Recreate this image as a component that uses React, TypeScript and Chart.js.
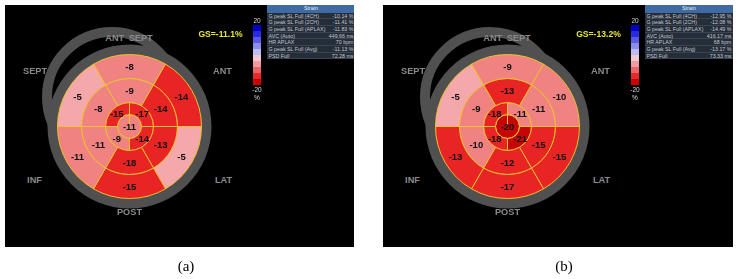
import React, { useEffect, useRef } from "react";
import { Chart, registerables } from "chart.js";

Chart.register(...registerables);

// 17-segment bullseye values (clockwise from top)
const basalA = [-8, -14, -5, -15, -11, -5];
const midA = [-9, -14, -13, -18, -11, -8];
const apicalA = [-17, -14, -9, -15]; // TR, BR, BL, TL
const apexA = [-11];

const basalB = [-9, -10, -15, -17, -13, -5];
const midB = [-13, -11, -15, -12, -10, -9];
const apicalB = [-11, -21, -18, -18];
const apexB = [-20];

const gsA = "GS=-11.1%";
const gsB = "GS=-13.2%";

const tableLabels = [
  "G peak SL Full (4CH)",
  "G peak SL Full (2CH)",
  "G peak SL Full (APLAX)",
  "AVC (Auto)",
  "HR APLAX",
  "G peak SL Full (Avg)",
  "PSD Full",
];
const tableA = ["-10.14 %", "-11.41 %", "-11.83 %", "449.66 ms", "70 bpm", "-11.13 %", "72.28 ms"];
const tableB = ["-12.95 %", "-12.08 %", "-14.49 %", "416.17 ms", "68 bpm", "-13.17 %", "73.33 ms"];

const wallLabels = ["ANT SEPT", "SEPT", "ANT", "INF", "LAT", "POST"];
const colorbarTicks = ["20", "-20", "%"];
const colorbarSteps = [
  "#0000c8", "#2a2ae0", "#5a5ae4", "#8c8cec", "#bcbcf2",
  "#f2c8d0", "#f29aa2", "#ee6464", "#e42a2a", "#cc0000",
];
const captions = ["(a)", "(b)"];

const YELLOW = "#f0c22e";
const RING = "#505050";

function strainColor(v: number): string {
  if (v > -7) return "#f4a8ac";
  if (v > -12) return "#f08282";
  if (v > -19) return "#e82424";
  return "#c60606";
}

const segLabelPlugin = {
  id: "segLabels",
  afterDatasetsDraw(chart: any, _args: any, opts: any) {
    const values: (number[] | null)[] = opts.values || [];
    const ctx = chart.ctx;
    ctx.save();
    ctx.font = 'bold 9.5px "Liberation Sans", Arial, sans-serif';
    ctx.fillStyle = "#111111";
    ctx.textAlign = "center";
    ctx.textBaseline = "middle";
    values.forEach((vals, di) => {
      if (!vals) return;
      const meta = chart.getDatasetMeta(di);
      meta.data.forEach((arc: any, i: number) => {
        const p = arc.getProps(["x", "y", "startAngle", "endAngle", "innerRadius", "outerRadius"]);
        let x = p.x;
        let y = p.y;
        const full = p.endAngle - p.startAngle >= Math.PI * 2 - 1e-6;
        if (!(full && p.innerRadius <= 0.5)) {
          const a = (p.startAngle + p.endAngle) / 2;
          const r = (p.innerRadius + p.outerRadius) / 2;
          x = p.x + Math.cos(a) * r;
          y = p.y + Math.sin(a) * r;
        }
        ctx.fillText(String(vals[i]), x, y + 0.5);
      });
    });
    ctx.restore();
  },
};

type PanelProps = {
  left: number;
  width: number;
  basal: number[];
  mid: number[];
  apical: number[];
  apex: number[];
  gs: string;
  table: string[];
  caption: string;
};

function Bullseye(props: { basal: number[]; mid: number[]; apical: number[]; apex: number[] }) {
  const ref = useRef<HTMLCanvasElement | null>(null);
  useEffect(() => {
    if (!ref.current) return;
    const seg = (vals: number[], weight: number, rotation: number) => ({
      data: vals.map(() => 1),
      backgroundColor: vals.map(strainColor),
      borderColor: YELLOW,
      borderWidth: 1,
      hoverBorderWidth: 1,
      weight,
      rotation,
    });
    const chart = new Chart(ref.current, {
      type: "doughnut",
      data: {
        datasets: [
          { data: [1], backgroundColor: RING, borderWidth: 0, hoverBorderWidth: 0, weight: 10, order: 10 } as any,
          seg(props.basal, 24, -30),
          seg(props.mid, 24, -30),
          seg(props.apical, 12, 0),
          seg(props.apex, 12, 0),
        ],
      },
      options: {
        animation: false,
        responsive: false,
        events: [],
        cutout: 0,
        radius: 82,
        layout: { padding: 0 },
        plugins: {
          legend: { display: false },
          tooltip: { enabled: false },
          segLabels: { values: [null, props.basal, props.mid, props.apical, props.apex] },
        } as any,
      },
      plugins: [segLabelPlugin],
    });
    return () => chart.destroy();
  }, []);
  return (
    <canvas
      ref={ref}
      width={165}
      height={165}
      style={{ position: "absolute", left: 42, top: 39, width: 165, height: 165 }}
    />
  );
}

const wallPos: [number, number][] = [
  [124, 34],
  [30, 67],
  [217.5, 67],
  [29.5, 176],
  [218.5, 176],
  [124.5, 208],
];

function Panel(p: PanelProps) {
  const text = (s: string, x: number, y: number, style: React.CSSProperties, key?: any) => (
    <div
      key={key}
      style={{
        position: "absolute",
        left: x,
        top: y,
        transform: "translate(-50%, -50%)",
        whiteSpace: "pre",
        lineHeight: 1,
        ...style,
      }}
    >
      {s}
    </div>
  );
  const wallStyle: React.CSSProperties = {
    color: "#8a8a8a",
    fontWeight: "bold",
    fontSize: 9.2,
    fontFamily: '"Liberation Sans", Arial, sans-serif',
    wordSpacing: 2,
  };
  return (
    <>
      <div
        style={{
          position: "absolute",
          left: p.left,
          top: 5,
          width: p.width,
          height: 242,
          background: "#000",
          overflow: "hidden",
        }}
      >
        {/* rear ring of the 3D view */}
        <div
          style={{
            position: "absolute",
            left: 37,
            top: 22,
            width: 140,
            height: 140,
            boxSizing: "border-box",
            border: `10px solid ${RING}`,
            borderRadius: "50%",
          }}
        />
        <Bullseye basal={p.basal} mid={p.mid} apical={p.apical} apex={p.apex} />
        {wallLabels.map((w, i) => text(w, wallPos[i][0], wallPos[i][1], wallStyle, w))}
        {text(p.gs, 215.5, 29, {
          color: "#e6e636",
          fontWeight: "bold",
          fontSize: 8.6,
          fontFamily: '"Liberation Sans", Arial, sans-serif',
        })}
        {/* colour bar */}
        <div style={{ position: "absolute", left: 248, top: 20, width: 8, height: 60 }}>
          {colorbarSteps.map((c, i) => (
            <div key={i} style={{ width: 8, height: 6, background: c }} />
          ))}
        </div>
        {text(colorbarTicks[0], 252, 16, { color: "#d8d8d8", fontSize: 6.5, fontFamily: '"Liberation Sans", Arial, sans-serif' })}
        {text(colorbarTicks[1], 252, 85, { color: "#d8d8d8", fontSize: 6.5, fontFamily: '"Liberation Sans", Arial, sans-serif' })}
        {text(colorbarTicks[2], 252, 93, { color: "#d8d8d8", fontSize: 6.5, fontFamily: '"Liberation Sans", Arial, sans-serif' })}
        {/* strain table */}
        <div
          style={{
            position: "absolute",
            left: 262,
            top: 0,
            width: 88,
            fontFamily: '"Liberation Sans", Arial, sans-serif',
            fontSize: 5.3,
            color: "#c4c8d0",
          }}
        >
          <div
            style={{
              height: 7.5,
              lineHeight: "7.5px",
              background: "#3f6aa4",
              color: "#e8eef8",
              textAlign: "center",
            }}
          >
            Strain
          </div>
          {tableLabels.map((l, i) => (
            <div
              key={l}
              style={{
                height: 6.7,
                lineHeight: "6.7px",
                background: "#252d39",
                borderBottom: "0.5px solid #3a4452",
                display: "flex",
                justifyContent: "space-between",
                padding: "0 1.5px",
                boxSizing: "border-box",
              }}
            >
              <span>{l}</span>
              <span>{p.table[i]}</span>
            </div>
          ))}
        </div>
      </div>
      {text(p.caption, p.left + 181, 266, {
        color: "#000",
        fontSize: 15,
        fontFamily: '"Liberation Serif", "Times New Roman", serif',
      })}
    </>
  );
}

export default function App() {
  return (
    <div
      style={{
        position: "absolute",
        left: 0,
        top: 0,
        width: 738,
        height: 279,
        background: "#fff",
        overflow: "hidden",
      }}
    >
      <Panel left={5} width={349} basal={basalA} mid={midA} apical={apicalA} apex={apexA} gs={gsA} table={tableA} caption={captions[0]} />
      <Panel left={383} width={350} basal={basalB} mid={midB} apical={apicalB} apex={apexB} gs={gsB} table={tableB} caption={captions[1]} />
    </div>
  );
}
